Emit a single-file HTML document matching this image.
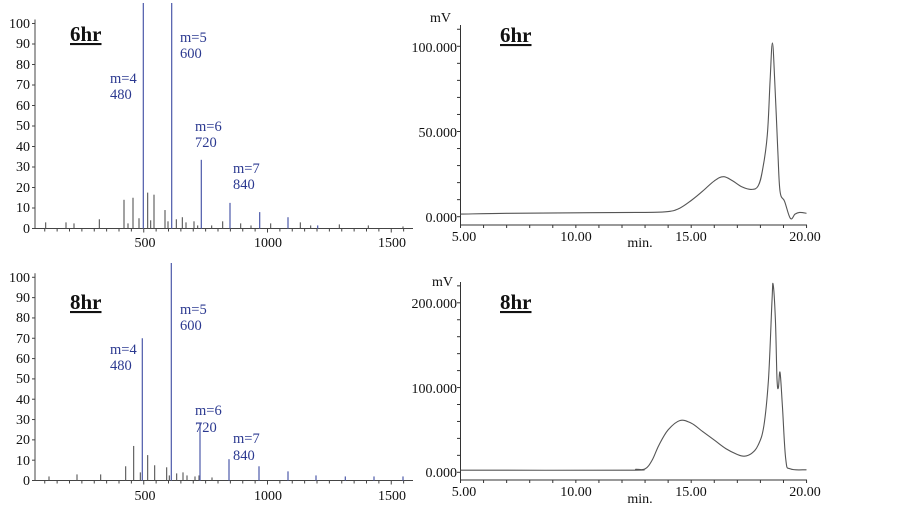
<!DOCTYPE html>
<html><head><meta charset="utf-8"><style>
html,body{margin:0;padding:0;background:#fff;}
svg{display:block;font-family:"Liberation Serif",serif;}
.t{font-size:14px;fill:#111;}
.b{font-size:14.5px;fill:#2b3990;}
.h{font-size:21px;font-weight:bold;fill:#111;text-decoration:underline;}
</style></head><body>
<svg id="s" width="902" height="510" viewBox="0 0 902 510" xmlns="http://www.w3.org/2000/svg">
<rect width="902" height="510" fill="#fff"/>
<g id="g"></g>
<g class="t" text-anchor="end">
<text x="30" y="28">100</text><text x="30" y="48">90</text><text x="30" y="69">80</text><text x="30" y="89">70</text><text x="30" y="110">60</text><text x="30" y="130">50</text><text x="30" y="151">40</text><text x="30" y="171">30</text><text x="30" y="192">20</text><text x="30" y="212">10</text><text x="30" y="233">0</text>
</g>
<g class="t" text-anchor="middle"><text x="145" y="247">500</text><text x="268" y="247">1000</text><text x="392" y="247">1500</text></g>
<text class="h" x="70" y="41">6hr</text>
<g class="b"><text x="110" y="83">m=4</text><text x="110" y="99">480</text><text x="180" y="42">m=5</text><text x="180" y="58">600</text><text x="195" y="131">m=6</text><text x="195" y="147">720</text><text x="233" y="173">m=7</text><text x="233" y="189">840</text></g>
<g class="t" text-anchor="end">
<text x="30" y="282">100</text><text x="30" y="302">90</text><text x="30" y="322">80</text><text x="30" y="343">70</text><text x="30" y="363">60</text><text x="30" y="383">50</text><text x="30" y="404">40</text><text x="30" y="424">30</text><text x="30" y="444">20</text><text x="30" y="465">10</text><text x="30" y="485">0</text>
</g>
<g class="t" text-anchor="middle"><text x="145" y="500">500</text><text x="268" y="500">1000</text><text x="392" y="500">1500</text></g>
<text class="h" x="70" y="309">8hr</text>
<g class="b"><text x="110" y="354">m=4</text><text x="110" y="370">480</text><text x="180" y="314">m=5</text><text x="180" y="330">600</text><text x="195" y="415">m=6</text><text x="195" y="432">720</text><text x="233" y="443">m=7</text><text x="233" y="460">840</text></g>
<text class="t" x="430" y="22" font-size="13">mV</text>
<text class="h" x="500" y="42">6hr</text>
<g class="t" text-anchor="end"><text x="457" y="52">100.000</text><text x="457" y="137">50.000</text><text x="457" y="222">0.000</text></g>
<g class="t" text-anchor="middle"><text x="464" y="241">5.00</text><text x="576" y="241">10.00</text><text x="691" y="241">15.00</text><text x="805" y="241">20.00</text><text x="640" y="247">min.</text></g>
<text class="t" x="432" y="286" font-size="13">mV</text>
<text class="h" x="500" y="309">8hr</text>
<g class="t" text-anchor="end"><text x="457" y="308">200.000</text><text x="457" y="393">100.000</text><text x="457" y="477">0.000</text></g>
<g class="t" text-anchor="middle"><text x="464" y="496">5.00</text><text x="576" y="496">10.00</text><text x="691" y="496">15.00</text><text x="805" y="496">20.00</text><text x="640" y="503">min.</text></g>
</svg>
<script>
var g=document.getElementById('g'),NS='http://www.w3.org/2000/svg';
function L(x1,y1,x2,y2,c,w){var e=document.createElementNS(NS,'line');e.setAttribute('x1',x1);e.setAttribute('y1',y1);e.setAttribute('x2',x2);e.setAttribute('y2',y2);e.setAttribute('stroke',c||'#333');e.setAttribute('stroke-width',w||1);g.appendChild(e);}
function P(d,c){var e=document.createElementNS(NS,'path');e.setAttribute('d',d);e.setAttribute('fill','none');e.setAttribute('stroke',c);e.setAttribute('stroke-width',1.1);e.setAttribute('stroke-linejoin','round');g.appendChild(e);}
function spec(y0,y100,bars,top){
 var k=(y0-y100)/100;
 L(35,y100-4,35,y0,'#444');L(35,y0,413,y0,'#444');
 for(var i=0;i<=10;i++){var y=y0-i*10*k;L(32,y,35,y,'#444');}
 for(var m=100;m<=1550;m+=50){var x=20+0.2475*m;L(x,y0,x,y0+(m%500==0?4:3),'#444');}
 bars.forEach(function(b){var x=b[0]/3,blue=b[2];var yt=b[1]>100?top:y0-b[1]*k;L(x,y0,x,yt,blue?'#5a66b0':'#555',blue?1.3:1.1);});
}
spec(228.5,23.5,[[137,3],[198,3],[222,2.5],[298,4.5],[372,14],[384,2.5],[399,15],[417,5],[430,200,1],[443,17.5],[452,4],[462,16.5],[495,9],[504,3.5],[515,101,1],[529,4.5],[547,5.5],[558,3],[582,3.5],[593,1.5],[604,33.5,1],[635,1.5],[668,3.5],[690,12.5,1],[722,2.5],[753,1.5],[779,8,1],[812,2.5],[864,5.5,1],[901,3],[932,1.5],[953,1.5,1],[1018,2],[1105,1.5],[1209,1]],3);
spec(480.5,277.3,[[147,2],[231,3],[302,3],[377,7],[401,17],[421,4],[427,70,1],[443,12.5],[464,7.5],[500,6.5],[508,2.5],[514,200,1],[530,3.5],[549,4],[561,2.5],[585,2],[597,2.5],[600,28,1],[636,1.5],[687,10.5,1],[777,7,1],[864,4.5,1],[948,2.5,1],[1036,2,1],[1122,2,1],[1209,2,1]],263);
function chrom(axY,yz,kv,top,ticksVals,pts){
 L(460.5,top,460.5,axY,'#333');L(460.5,axY,807,axY,'#333');
 for(var t=5;t<=20.01;t+=1){var x=460.5+(t-5)*23.07;L(x,axY,x,axY+3,'#333');}
 for(var v=ticksVals[0];v<=ticksVals[1];v+=ticksVals[2]){var y=yz-v*kv;if(y>top)L(457,y,460.5,y,'#333');}
 var q=pts.map(function(p){return [460.5+(p[0]-5)*23.07,yz-p[1]*kv];});
 var d='M'+q[0][0].toFixed(1)+' '+q[0][1].toFixed(1),T=0.18;
 for(var i=0;i<q.length-1;i++){var p0=q[Math.max(0,i-1)],p1=q[i],p2=q[i+1],p3=q[Math.min(q.length-1,i+2)];
  var c1=[p1[0]+(p2[0]-p0[0])*T,p1[1]+(p2[1]-p0[1])*T],c2=[p2[0]-(p3[0]-p1[0])*T,p2[1]-(p3[1]-p1[1])*T];
  d+='C'+c1[0].toFixed(1)+' '+c1[1].toFixed(1)+' '+c2[0].toFixed(1)+' '+c2[1].toFixed(1)+' '+p2[0].toFixed(1)+' '+p2[1].toFixed(1);}
 P(d,'#555');
}
chrom(225,216.7,1.704,25,[0,110,10],[[5,1.5],[7,2],[10,2.3],[13,2.5],[14,3],[14.5,5],[15,9.5],[15.5,15],[16,21],[16.4,23.5],[16.8,21],[17.2,17.5],[17.6,16],[17.9,18],[18.1,28],[18.3,48],[18.42,80],[18.52,102],[18.62,80],[18.75,40],[18.85,15],[19.05,9],[19.3,-1],[19.5,1.5],[19.7,2.5],[20,2]]);
chrom(480,472.3,0.8475,282,[0,220,20],[[5,2.5],[12.3,2.5],[12.6,3.5],[13,4],[13.3,14],[13.6,32],[14,50],[14.5,61],[15,58],[15.5,48],[16,38],[16.5,28],[17,21],[17.3,19],[17.6,22],[17.9,32],[18.15,55],[18.35,110],[18.5,200],[18.55,222],[18.65,180],[18.72,110],[18.78,100],[18.85,118],[18.95,80],[19.1,15],[19.3,4],[20,3]]);
</script>
</body></html>
